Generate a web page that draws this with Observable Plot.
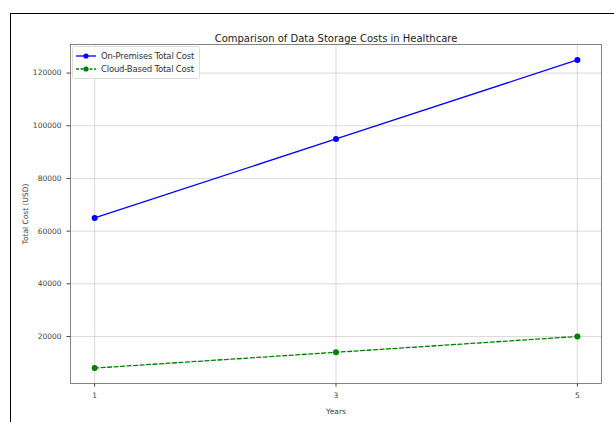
<!DOCTYPE html>
<html>
<head>
<meta charset="utf-8">
<script src="https://cdn.jsdelivr.net/npm/d3@7"></script>
<script src="https://cdn.jsdelivr.net/npm/@observablehq/plot@0.6"></script>
<style>
  html, body { margin: 0; padding: 0; background: #fff; }
  #wrap { position: relative; width: 614px; height: 422px; overflow: hidden; }
  #border { position: absolute; left: 10px; top: 13px; width: 700px; height: 500px; border-left: 1.5px solid #000; border-top: 1.5px solid #000; }
  #legend { position: absolute; left: 72px; top: 46px; width: 126px; height: 31px; background: rgba(255,255,255,0.85); border: 1px solid #ddd; border-radius: 2px; font-family: "DejaVu Sans", sans-serif; font-size: 8.5px; color: #333; }
  .item { position: absolute; left: 3px; height: 12px; display: flex; align-items: center; white-space: nowrap; letter-spacing: -0.2px; }
  .item svg { margin-right: 5px; }
</style>
</head>
<body>
<div id="wrap">
  <div id="chart"></div>
  <div id="border"></div>
  <div id="legend"></div>
</div>
<script>
const years = [1, 3, 5];
const onPremCost = [65000, 95000, 125000];
const cloudCost = [8000, 14000, 20000];
const seriesNames = ["On-Premises Total Cost", "Cloud-Based Total Cost"];
const seriesColors = ["blue", "green"];
const yTicks = [20000, 40000, 60000, 80000, 100000, 120000];
const titleText = "Comparison of Data Storage Costs in Healthcare";

const onPrem = years.map((y, i) => ({year: y, cost: onPremCost[i]}));
const cloud = years.map((y, i) => ({year: y, cost: cloudCost[i]}));

const chart = Plot.plot({
  width: 614,
  height: 422,
  marginLeft: 70,
  marginRight: 13,
  marginTop: 44,
  marginBottom: 39,
  style: {fontFamily: "DejaVu Sans, sans-serif", fontSize: "7.5px", color: "#444", background: "transparent"},
  x: {domain: [0.8, 5.2], ticks: years, tickFormat: d => String(d), label: "Years", labelArrow: "none", labelAnchor: "center", labelOffset: 30, tickSize: 3.5},
  y: {domain: [2150, 130850], ticks: yTicks, tickFormat: d => String(d), label: "Total Cost (USD)", labelArrow: "none", labelAnchor: "center", labelOffset: 48, tickSize: 3.5},
  marks: [
    Plot.gridX(years, {stroke: "#b0b0b0", strokeOpacity: 0.6, strokeWidth: 0.8}),
    Plot.gridY(yTicks, {stroke: "#b0b0b0", strokeOpacity: 0.6, strokeWidth: 0.8}),
    Plot.frame({stroke: "#666", strokeWidth: 0.8}),
    Plot.line(onPrem, {x: "year", y: "cost", stroke: seriesColors[0], strokeWidth: 1.3}),
    Plot.dot(onPrem, {x: "year", y: "cost", fill: seriesColors[0], r: 3}),
    Plot.line(cloud, {x: "year", y: "cost", stroke: seriesColors[1], strokeWidth: 1.3, strokeDasharray: "4,2.5"}),
    Plot.dot(cloud, {x: "year", y: "cost", fill: seriesColors[1], r: 3}),
    Plot.text([titleText], {frameAnchor: "top", dy: -10, fontSize: 10, fill: "#222"})
  ]
});
document.getElementById("chart").appendChild(chart);

const legend = document.getElementById("legend");
seriesNames.forEach((name, i) => {
  const div = document.createElement("div");
  div.className = "item";
  div.style.top = (3 + i * 13) + "px";
  const dash = i === 1 ? 'stroke-dasharray="3,1.5"' : '';
  div.innerHTML = `<svg width="20" height="8"><line x1="0" y1="4" x2="20" y2="4" stroke="${seriesColors[i]}" stroke-width="1.3" ${dash}/><circle cx="10" cy="4" r="2.6" fill="${seriesColors[i]}"/></svg><span>${name}</span>`;
  legend.appendChild(div);
});
</script>
</body>
</html>
